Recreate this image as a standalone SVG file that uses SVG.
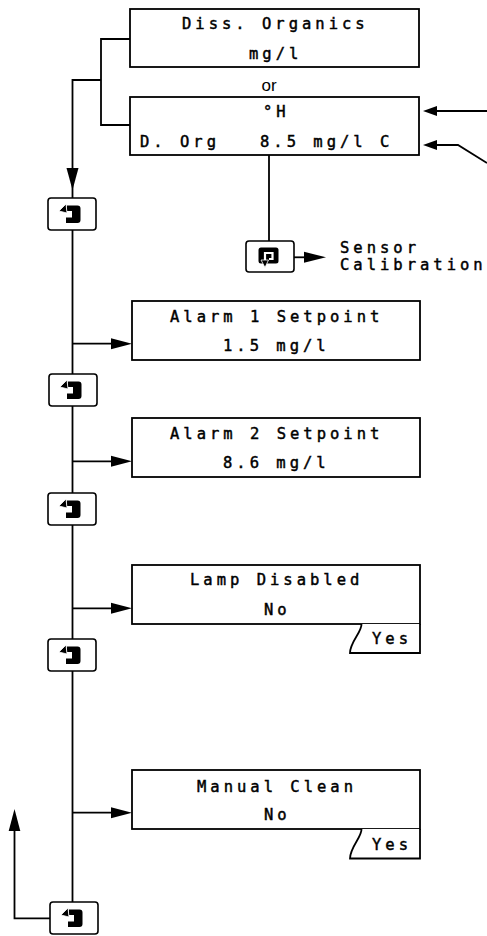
<svg xmlns="http://www.w3.org/2000/svg" xmlns:xlink="http://www.w3.org/1999/xlink" width="487" height="936" viewBox="0 0 487 936">
<style>
.box{fill:#fff;stroke:#000;stroke-width:1.8}
.key{fill:#fff;stroke:#000;stroke-width:1.6}
.ln{fill:none;stroke:#000;stroke-width:1.8}
.ah{fill:#000;stroke:none}
.t{font-family:"DejaVu Sans Mono","Liberation Mono",monospace;font-size:15.5px;letter-spacing:4px;fill:#000;stroke:#000;stroke-width:0.45}
.or{font-family:"Liberation Sans",Arial,sans-serif;font-size:17px;fill:#000}
</style>
<defs>
<g id="enterIcon">
<path d="M-5,-8.5 h10.5 a3,3 0 0 1 3,3 v11.5 a3,3 0 0 1 -3,3 h-11.5 v-5.5 h6 v-6.5 h-5 z" fill="#000"/>
<polygon points="-13,-3 -6,-10 -5,-1" fill="#000" stroke="#fff" stroke-width="0.8"/>
</g>
<g id="loopIcon">
<rect x="-10.5" y="-8.5" width="20" height="16" rx="2.5" fill="#000"/>
<path d="M-4,6.5 V-3 H3.5 V3 H0" fill="none" stroke="#fff" stroke-width="2.2"/>
<polygon points="-8,4 -0.5,4 -4,11.5" fill="#000" stroke="#fff" stroke-width="0.8"/>
</g>
</defs>

<g id="connectors">
<path class="ln" d="M130,39 H101 V125 H130"/>
<path class="ln" d="M101,80 H72.5 V198"/>
<polygon class="ah" points="66.5,168 78.5,168 72.5,190"/>
<path class="ln" d="M72.5,230 V902"/>
<path class="ln" d="M72.5,343.7 H112"/>
<polygon class="ah" points="111,338.2 111,349.2 132,343.7"/>
<path class="ln" d="M72.5,461.3 H112"/>
<polygon class="ah" points="111,455.8 111,466.8 132,461.3"/>
<path class="ln" d="M72.5,608.3 H112"/>
<polygon class="ah" points="111,602.8 111,613.8 132,608.3"/>
<path class="ln" d="M72.5,812.7 H112"/>
<polygon class="ah" points="111,807.2 111,818.2 132,812.7"/>
<path class="ln" d="M50,918.3 H14.5 V830"/>
<polygon class="ah" points="8.7,831 20.3,831 14.5,809"/>
<path class="ln" d="M269,155 V241"/>
<path class="ln" d="M294,257.3 H305"/>
<polygon class="ah" points="304,251.8 304,262.8 326,257.3"/>
<path class="ln" d="M487,111 H436"/>
<polygon class="ah" points="437,106 437,116 423,111"/>
<path class="ln" d="M487,163 L458,145 H436"/>
<polygon class="ah" points="437,140 437,150 423,145"/>
</g>

<g id="node-diss-organics">
<rect class="box" x="130" y="9" width="289" height="58"/>
<text class="t" x="182" y="29">Diss. Organics</text>
<text class="t" x="249" y="59">mg/l</text>
</g>
<g id="label-or">
<text class="or" x="269" y="91" text-anchor="middle">or</text>
</g>
<g id="node-dorg">
<rect class="box" x="130" y="97" width="289" height="58"/>
<text class="t" x="263" y="117">°H</text>
<text class="t" x="140" y="147" xml:space="preserve">D. Org   8.5 mg/l C</text>
</g>
<g id="node-sensor-key">
<rect class="key" x="246" y="241" width="48" height="31" rx="3"/>
<use xlink:href="#loopIcon" x="269" y="256"/>
</g>
<g id="label-sensor-calibration">
<text class="t" x="340" y="253">Sensor</text>
<text class="t" x="340" y="270">Calibration</text>
</g>
<g id="node-key1">
<rect class="key" x="48" y="198" width="48" height="32" rx="3"/>
<use xlink:href="#enterIcon" x="72" y="214"/>
</g>
<g id="node-alarm1">
<rect class="box" x="132" y="301" width="288" height="59"/>
<text class="t" x="170" y="321.5">Alarm 1 Setpoint</text>
<text class="t" x="223" y="350.5">1.5 mg/l</text>
</g>
<g id="node-key2">
<rect class="key" x="49" y="374" width="48" height="32" rx="3"/>
<use xlink:href="#enterIcon" x="73" y="390"/>
</g>
<g id="node-alarm2">
<rect class="box" x="132" y="418" width="288" height="59"/>
<text class="t" x="170" y="438.5">Alarm 2 Setpoint</text>
<text class="t" x="223" y="467.5">8.6 mg/l</text>
</g>
<g id="node-key3">
<rect class="key" x="48" y="493" width="48" height="32" rx="3"/>
<use xlink:href="#enterIcon" x="72" y="509"/>
</g>
<g id="node-lamp">
<rect class="box" x="132" y="565" width="288" height="59"/>
<path class="box" d="M361.5,624 C362,632 350,642 350,653 H420 V624"/>
<text class="t" x="190" y="585">Lamp Disabled</text>
<text class="t" x="264" y="615">No</text>
<text class="t" x="372" y="644">Yes</text>
</g>
<g id="node-key4">
<rect class="key" x="48" y="639" width="48" height="32" rx="3"/>
<use xlink:href="#enterIcon" x="72" y="655"/>
</g>
<g id="node-manual">
<rect class="box" x="132" y="770" width="288" height="59"/>
<path class="box" d="M361.5,829 C362,837 350,847 350,858.5 H420 V829"/>
<text class="t" x="197" y="791.5">Manual Clean</text>
<text class="t" x="264" y="820">No</text>
<text class="t" x="372" y="850">Yes</text>
</g>
<g id="node-key5">
<rect class="key" x="50" y="902" width="48" height="32" rx="3"/>
<use xlink:href="#enterIcon" x="74" y="918"/>
</g>
</svg>
